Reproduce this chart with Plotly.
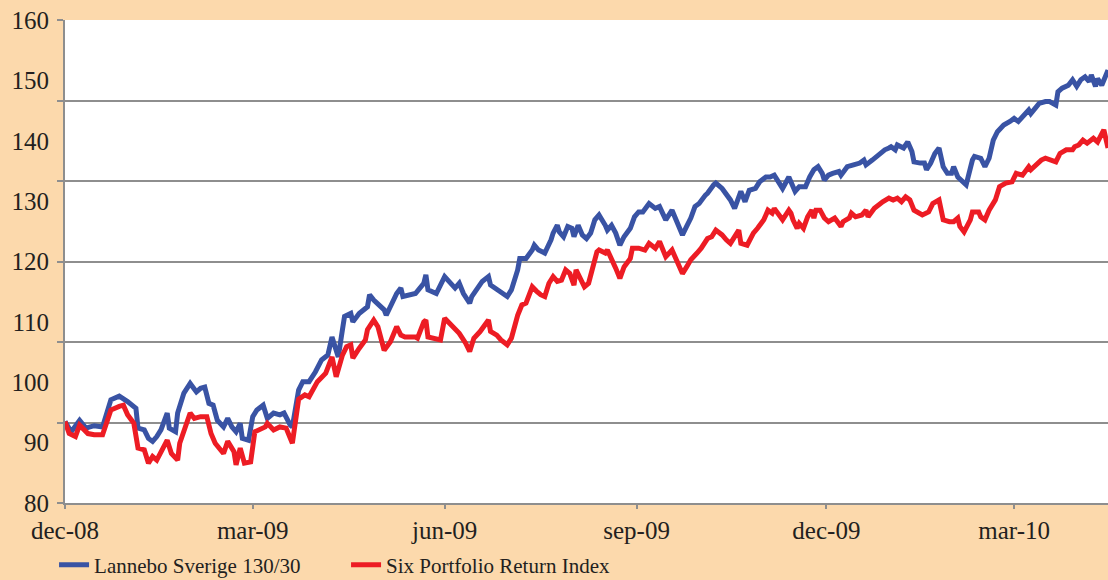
import pandas as pd
import plotly.graph_objects as go

# ---- data (days since 2008-12-01, index values) ----
START = "2008-12-01"

lannebo_days = [0, 3, 7, 10, 14, 18, 22, 26, 30, 34, 35, 38, 40, 42, 44, 46, 49, 50, 53, 54,
                57, 60, 63, 65, 67, 69, 71, 73, 76, 78, 80, 82, 84, 85, 88, 90, 92, 95, 97, 100,
                103, 105, 108, 109, 112, 114, 117, 120, 123, 126, 128, 130, 131, 133, 134, 137, 138, 141, 145, 146,
                148, 153, 154, 159, 161, 162, 168, 172, 173, 174, 178, 182, 185, 187, 189, 191, 194, 195, 200, 203,
                204, 209, 212, 214, 217, 218, 221, 224, 225, 227, 230, 233, 234, 236, 237, 239, 241, 243, 244, 246,
                248, 250, 252, 254, 256, 259, 260, 262, 264, 266, 268, 271, 273, 275, 277, 280, 283, 285, 287, 288,
                291, 293, 296, 298, 300, 302, 304, 307, 308, 311, 312, 315, 317, 319, 321, 324, 326, 328, 331, 333,
                336, 338, 340, 343, 344, 347, 349, 350, 352, 355, 357, 359, 361, 363, 364, 366, 368, 371, 372, 375,
                378, 381, 383, 384, 387, 389, 391, 393, 395, 396, 398, 399, 402, 404, 406, 407, 410, 412, 413, 415,
                417, 419, 421, 423, 425, 426, 428, 431, 432, 435, 436, 439, 441, 443, 445, 447, 450, 453, 455, 457,
                459, 462, 463, 465, 467, 470, 472, 475, 476, 478, 481, 483, 485, 487, 489, 491, 492, 494, 495, 497,
                499, 500]
lannebo_values = [93.5, 91.8, 93.7, 92.4, 92.8, 92.6, 97.1, 97.7, 96.8, 95.7, 92.4, 92.1, 90.7, 90.2, 91.0, 92.1, 94.9, 92.4, 91.8, 94.9,
                  98.2, 99.8, 98.4, 99.0, 99.2, 96.5, 96.2, 93.7, 92.6, 94.0, 92.6, 91.8, 93.2, 90.7, 90.4, 94.3, 95.4, 96.2, 94.0, 94.9,
                  94.6, 94.9, 92.9, 92.6, 98.7, 100.1, 100.1, 101.7, 103.7, 104.5, 107.5, 105.1, 104.2, 108.7, 110.9, 111.4, 110.0, 111.4, 112.5, 114.5,
                  113.6, 112.0, 111.1, 114.7, 115.6, 114.2, 114.7, 116.4, 117.8, 115.3, 114.7, 117.5, 116.4, 115.6, 116.4, 114.7, 113.1, 114.2, 116.7, 117.5,
                  116.1, 115.0, 114.2, 115.3, 118.6, 120.5, 120.5, 121.9, 122.7, 121.9, 121.4, 123.6, 124.7, 126.0, 124.9, 124.1, 125.8, 125.5, 124.1, 126.0,
                  124.4, 123.8, 124.7, 126.9, 127.7, 126.0, 125.2, 126.0, 124.7, 122.7, 124.1, 125.5, 127.4, 128.2, 128.2, 129.6, 128.8, 129.1, 127.4, 126.9,
                  128.5, 126.9, 124.4, 125.8, 127.2, 129.1, 129.6, 131.0, 131.3, 132.7, 133.0, 132.1, 131.3, 130.2, 128.8, 131.6, 129.9, 131.8, 132.1, 133.2,
                  134.0, 134.0, 134.3, 132.4, 132.1, 134.0, 132.4, 131.6, 132.4, 132.4, 134.0, 135.2, 135.7, 134.6, 133.5, 134.3, 134.6, 134.9, 134.3, 135.7,
                  136.0, 136.3, 136.8, 136.0, 136.8, 137.4, 137.9, 138.5, 138.8, 139.0, 138.5, 139.3, 138.8, 139.8, 138.2, 136.5, 136.3, 136.3, 135.2, 136.3,
                  137.9, 138.8, 135.7, 134.6, 134.6, 135.7, 134.0, 133.0, 132.7, 136.8, 137.4, 137.1, 135.7, 137.1, 140.1, 141.5, 142.6, 143.2, 143.7, 143.2,
                  144.0, 145.1, 144.5, 145.4, 146.2, 146.5, 146.5, 145.9, 148.1, 148.7, 149.2, 150.1, 149.0, 150.1, 150.6, 149.8, 150.9, 149.0, 150.3, 149.2,
                  151.2, 151.7]

six_days = [0, 2, 5, 7, 11, 14, 18, 22, 26, 28, 30, 33, 35, 38, 40, 42, 44, 46, 49, 51,
            54, 55, 58, 60, 62, 65, 68, 70, 72, 76, 78, 81, 82, 84, 86, 89, 91, 93, 96, 97,
            100, 103, 106, 109, 112, 115, 117, 121, 125, 128, 130, 133, 135, 137, 138, 141, 144, 145, 148, 150,
            153, 156, 159, 161, 163, 168, 169, 172, 173, 174, 180, 182, 185, 187, 189, 192, 194, 196, 199, 203,
            204, 207, 209, 212, 214, 217, 219, 221, 224, 226, 228, 230, 232, 234, 236, 238, 240, 242, 244, 245,
            247, 249, 251, 253, 255, 256, 259, 260, 262, 264, 266, 268, 271, 272, 275, 278, 280, 283, 285, 288,
            291, 293, 296, 298, 300, 303, 305, 308, 310, 312, 315, 317, 319, 323, 324, 327, 330, 332, 335, 337,
            339, 340, 343, 344, 347, 348, 349, 351, 352, 354, 356, 358, 359, 360, 362, 364, 366, 369, 372, 373,
            376, 377, 379, 382, 384, 385, 388, 390, 392, 395, 397, 399, 401, 403, 405, 407, 409, 411, 414, 416,
            419, 421, 424, 426, 428, 429, 431, 434, 435, 438, 439, 441, 443, 446, 448, 451, 454, 456, 459, 462,
            463, 466, 468, 470, 475, 477, 480, 483, 484, 486, 488, 490, 493, 495, 497, 498, 500]
six_values = [93.5, 91.5, 91.0, 92.9, 91.5, 91.3, 91.3, 95.4, 96.0, 96.2, 94.6, 93.2, 89.1, 88.8, 86.6, 87.7, 87.1, 88.5, 90.4, 88.2,
              87.1, 89.9, 93.2, 94.9, 94.0, 94.3, 94.3, 91.5, 89.9, 88.2, 90.2, 88.5, 86.3, 89.1, 86.6, 86.8, 91.8, 92.1, 92.6, 93.2,
              92.1, 92.6, 92.4, 89.9, 97.2, 97.9, 97.6, 100.1, 101.5, 104.2, 100.9, 104.5, 105.9, 106.2, 104.0, 105.6, 107.0, 108.7, 110.3, 109.2,
              105.3, 106.7, 109.2, 107.8, 107.5, 107.5, 107.3, 110.0, 110.3, 107.5, 107.0, 110.6, 109.5, 108.7, 108.1, 106.5, 105.1, 107.3, 108.4, 110.3,
              108.4, 107.8, 107.0, 106.2, 107.3, 111.1, 112.8, 113.1, 115.8, 115.1, 114.5, 114.2, 116.4, 117.5, 116.7, 116.9, 118.6, 118.0, 116.1, 118.6,
              117.2, 115.8, 116.4, 119.1, 121.6, 121.9, 121.4, 121.9, 120.5, 118.9, 117.2, 119.1, 120.5, 122.2, 122.2, 121.9, 123.0, 122.2, 123.3, 120.8,
              121.9, 120.3, 118.0, 119.1, 120.3, 121.4, 122.2, 123.8, 124.1, 125.2, 124.4, 123.6, 123.0, 125.2, 123.0, 122.7, 124.7, 125.5, 126.9, 128.5,
              128.0, 128.8, 127.4, 126.9, 128.5, 128.0, 126.9, 125.5, 126.3, 125.5, 127.4, 128.5, 127.2, 128.5, 128.5, 127.2, 126.6, 127.2, 125.8, 126.6,
              127.2, 128.0, 127.4, 127.7, 128.5, 127.4, 128.8, 129.4, 129.9, 130.5, 130.2, 130.5, 129.9, 130.7, 130.2, 128.5, 128.0, 127.7, 128.2, 129.6,
              130.2, 126.9, 126.6, 126.6, 127.2, 125.8, 124.9, 126.9, 128.2, 128.2, 127.4, 126.9, 128.5, 130.2, 132.4, 133.0, 133.2, 134.6, 134.3, 135.7,
              135.2, 136.3, 136.8, 137.1, 136.5, 137.9, 138.5, 138.5, 139.0, 139.3, 140.1, 139.6, 140.4, 139.8, 141.2, 141.8, 138.8]

series_names = ["Lannebo Sverige 130/30", "Six Portfolio Return Index"]
series_colors = ["#3953A4", "#ED1C24"]

tick_dates = ["2008-12-01", "2009-03-01", "2009-06-01", "2009-09-01", "2009-12-01", "2010-03-01"]
tick_labels = ["dec-08", "mar-09", "jun-09", "sep-09", "dec-09", "mar-10"]
y_ticks = [80, 90, 100, 110, 120, 130, 140, 150, 160]
x_range = ["2008-12-01", "2010-04-15"]

# ---- build ----
start = pd.Timestamp(START)
def to_dates(days):
    return [start + pd.Timedelta(days=d) for d in days]

PEACH = "#FCD9AC"
GRID = "#8E8E8E"
TEXT = "#231F20"
FONT = "Liberation Serif, Times New Roman, serif"

fig = go.Figure()
fig.add_trace(go.Scatter(x=to_dates(lannebo_days), y=lannebo_values, mode="lines",
                         name=series_names[0], line=dict(color=series_colors[0], width=5)))
fig.add_trace(go.Scatter(x=to_dates(six_days), y=six_values, mode="lines",
                         name=series_names[1], line=dict(color=series_colors[1], width=5)))
# empty trace so the gridline axis is built
fig.add_trace(go.Scatter(x=[], y=[], yaxis="y2", showlegend=False, hoverinfo="skip"))

fig.update_layout(
    width=1108, height=580,
    paper_bgcolor=PEACH, plot_bgcolor="white",
    margin=dict(l=65, r=0, t=20, b=77, autoexpand=False),
    font=dict(family=FONT, color=TEXT),
    xaxis=dict(type="date", range=x_range, tickvals=tick_dates, ticktext=tick_labels,
               showgrid=False, zeroline=False, showline=True, linecolor=GRID, linewidth=2,
               ticks="outside", ticklen=4, tickwidth=2, tickcolor=GRID,
               tickfont=dict(size=25, family=FONT, color=TEXT), ticklabelstandoff=0),
    yaxis=dict(range=[80, 160], tickvals=y_ticks, ticktext=[str(v) for v in y_ticks],
               showgrid=False, zeroline=False, showline=False, ticks="",
               tickfont=dict(size=25, family=FONT, color=TEXT), ticklabelstandoff=15),
    yaxis2=dict(range=[0, 6], dtick=1, overlaying="y", side="left", showticklabels=False,
                showgrid=True, gridcolor=GRID, gridwidth=2, zeroline=False,
                showline=True, linecolor=GRID, linewidth=2,
                ticks="outside", ticklen=6, tickwidth=2, tickcolor=GRID),
    showlegend=True,
    legend=dict(orientation="h", x=-0.0105, xanchor="left", y=-0.086, yanchor="top",
                bgcolor="rgba(0,0,0,0)", font=dict(size=21, family=FONT, color=TEXT),
                entrywidth=247, itemwidth=30),
)

fig.write_html("out.html", config={"displayModeBar": False},
               post_script="document.body.style.margin='0';document.body.style.overflow='hidden';")
